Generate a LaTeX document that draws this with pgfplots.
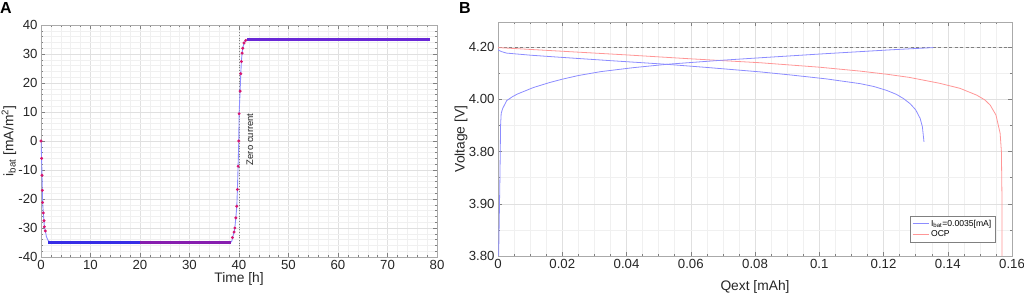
\documentclass[border=0pt]{standalone}
\usepackage{pgfplots}
\pgfplotsset{compat=1.18}
\usepackage{fontspec}
\setmainfont{Liberation Sans}
\definecolor{lblue}{RGB}{140,140,255}
\definecolor{lred}{RGB}{255,150,150}
\definecolor{dotred}{RGB}{215,20,110}
\definecolor{plblue}{RGB}{55,45,230}
\definecolor{plpurp}{RGB}{135,30,175}
\definecolor{plviol}{RGB}{105,40,215}
\definecolor{framegray}{RGB}{170,170,170}
\definecolor{txtgray}{RGB}{38,38,38}
\pgfplotsset{mystyle/.style={scale only axis,
  axis line style={framegray},
  tick style={color=gray, thin},
  major tick length=4pt, minor tick length=2pt, tick align=inside,
  grid=both,
  major grid style={color=black!12, line width=0.5pt},
  minor grid style={color=black!6, line width=0.4pt},
  ticklabel style={font=\fontsize{13.2}{15}\selectfont, text=txtgray},
  label style={font=\fontsize{13.8}{15}\selectfont, text=txtgray},
  /pgf/number format/assume math mode=true}}
\begin{document}
\begin{tikzpicture}
\useasboundingbox (0,0) rectangle (1024pt,294pt);
\node[anchor=north west, inner sep=0pt, font=\fontsize{16}{18}\selectfont\bfseries] at (0pt,292pt) {A};
\node[anchor=north west, inner sep=0pt, font=\fontsize{16}{18}\selectfont\bfseries] at (459pt,292pt) {B};
% ---------------- Panel A
\begin{axis}[mystyle, at={(41pt,37pt)}, anchor=south west, width=396pt, height=232pt,
  xmin=0, xmax=80, ymin=-40, ymax=40,
  xtick={0,10,20,30,40,50,60,70,80}, xticklabels={0,10,20,30,40,50,60,70,80},
  ytick={-40,-30,-20,-10,0,10,20,30,40}, yticklabels={-40,-30,-20,-10,0,10,20,30,40},
  minor x tick num=4, minor y tick num=4,
  xlabel={Time [h]}, ylabel={i\textsubscript{bat} [mA/m\textsuperscript{2}]},
  xlabel style={at={(axis description cs:0.5,-0.095)}, anchor=center},
  ylabel style={at={(axis description cs:-0.081,0.5)}, anchor=center}]
\addplot[gray, dotted, line width=0.7pt] coordinates {(40,-40)(40,40)};
\addplot[lblue, line width=0.9pt] coordinates {
(0,0)(0.12,-6)(0.2,-11.8)(0.26,-17)(0.33,-21.2)(0.46,-24.8)(0.6,-27.5)(0.67,-29.6)(0.87,-31)
(1.1,-33)(1.4,-34.2)(1.8,-34.8)(2.5,-35)(38.2,-35)(38.5,-34.7)(38.7,-33.5)(39.0,-31.4)
(39.16,-30)(39.36,-26.5)(39.56,-22.5)(39.68,-16.7)(39.82,-8.7)(39.96,0)(40.02,9.4)
(40.22,17.2)(40.36,23.2)(40.48,27.4)(40.62,30.3)(40.76,32)(41.02,33.8)(41.37,34.7)
(41.8,35)(78.5,35)};
\addplot[plblue, line width=2.8pt] coordinates {(1.5,-35)(20,-35)};
\addplot[plpurp, line width=2.8pt] coordinates {(20,-35)(38.3,-35)};
\addplot[plviol, line width=2.8pt] coordinates {(41.6,35)(78.5,35)};
\addplot[only marks, mark=*, mark size=1.3pt, dotred] coordinates {
(0,0)(0.12,-6)(0.2,-11.8)(0.26,-17)(0.33,-21.2)(0.46,-24.8)(0.6,-27.5)(0.67,-29.6)(0.87,-31)
(38.67,-33.3)(39.0,-31.4)(39.16,-30)(39.36,-26.5)(39.56,-22.5)(39.68,-16.7)(39.82,-8.7)
(39.96,0)(40.02,9.4)(40.22,17.2)(40.36,23.2)(40.48,27.4)(40.62,30.3)(40.76,32)(41.02,33.8)(41.37,34.7)};
\node[rotate=90, font=\fontsize{9.5}{11}\selectfont, text=txtgray] at (axis cs:42.2,0.6) {Zero current};
\end{axis}
% ---------------- Panel B
\begin{axis}[mystyle, at={(498pt,38pt)}, anchor=south west, width=514pt, height=234pt,
  xmin=0, xmax=0.16, ymin=3.4, ymax=4.296,
  xtick={0,0.02,0.04,0.06,0.08,0.1,0.12,0.14,0.16},
  xticklabels={0,0.02,0.04,0.06,0.08,0.1,0.12,0.14,0.16},
  ytick={3.4,3.6,3.8,4.0,4.2}, yticklabels={3.80,3.90,3.80,4.00,4.20},
  minor x tick num=3, minor y tick num=1,
  xlabel={Qext [mAh]}, ylabel={Voltage [V]},
  xlabel style={at={(axis description cs:0.5,-0.1325)}, anchor=center},
  ylabel style={at={(axis description cs:-0.072,0.5)}, anchor=center},
  legend style={at={(0.967,0.06)}, anchor=south east, font=\fontsize{8.6}{9.5}\selectfont,
    draw=gray, inner sep=1.5pt, row sep=-1pt, cells={anchor=west}}]
\addlegendimage{legend image code/.code={\draw[draw=lblue, line width=0.9pt] (0pt,0pt) -- (16pt,0pt);}}
\addlegendentry{I\textsubscript{bat}=0.0035[mA]}
\addlegendimage{legend image code/.code={\draw[draw=lred, line width=0.9pt] (0pt,0pt) -- (16pt,0pt);}}
\addlegendentry{OCP}
\addplot[gray, dash pattern=on 3pt off 2.5pt, line width=0.7pt, forget plot] coordinates {(0,4.2)(0.16,4.2)};
\addplot[lblue, line width=0.8pt, forget plot] coordinates {
(0,4.189)(0.001,4.183)(0.0026,4.177)(0.01,4.169)(0.0193,4.161)(0.035,4.148)(0.0525,4.134)(0.065,4.122)
(0.0816,4.105)(0.092,4.092)(0.1023,4.078)(0.1127,4.060)(0.117,4.049)(0.121,4.034)(0.124,4.019)
(0.1262,4.003)(0.1283,3.983)(0.1300,3.960)(0.1314,3.927)(0.1321,3.895)(0.1326,3.837)};
\addplot[lred, line width=0.8pt, forget plot] coordinates {
(0,4.198)(0.02,4.184)(0.04,4.170)(0.06,4.155)(0.0816,4.140)(0.1,4.123)(0.1127,4.108)(0.121,4.096)(0.128,4.084)
(0.1376,4.061)(0.1438,4.042)(0.149,4.016)(0.1515,3.998)(0.1532,3.978)(0.155,3.940)(0.1563,3.87)
(0.1567,3.80)(0.1569,3.60)(0.1569,3.40)};
\addplot[lblue, line width=0.8pt, forget plot] coordinates {
(0.0002,3.40)(0.0006,3.70)(0.0008,3.90)(0.0010,3.947)(0.0015,3.966)(0.0027,3.995)(0.0045,4.010)
(0.006,4.020)(0.011,4.045)(0.016,4.064)(0.02,4.077)(0.025,4.091)(0.032,4.106)(0.042,4.121)
(0.0525,4.134)(0.069,4.149)(0.0816,4.159)(0.1023,4.175)(0.123,4.190)(0.1355,4.198)};
\end{axis}
\end{tikzpicture}
\end{document}
